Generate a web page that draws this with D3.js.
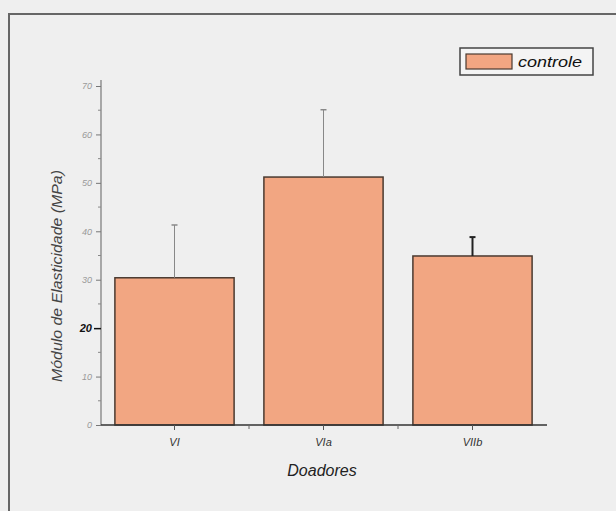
<!DOCTYPE html>
<html><head><meta charset="utf-8">
<script src="https://cdn.jsdelivr.net/npm/d3@7"></script>
<style>
html,body{margin:0;padding:0;background:#efefef;}
svg{display:block;}
text{font-family:"Liberation Sans",Arial,sans-serif;}
</style></head>
<body>
<svg id="c" width="616" height="511"></svg>
<script>
const categories = ["VI", "VIa", "VIIb"];
const values = [30.4, 51.2, 34.9];
const errors = [10.9, 13.9, 3.9];
const yTicks = [0, 10, 20, 30, 40, 50, 60, 70];
const seriesName = "controle";

const svg = d3.select("#c");
const W = 616, H = 511;
svg.append("rect").attr("width", W).attr("height", H).attr("fill", "#efefef");
// outer frame
svg.append("path").attr("d", `M9,${H} V14 H${W}`).attr("fill", "none").attr("stroke", "#666").attr("stroke-width", 2);

const x = d3.scaleBand().domain(categories).range([100, 547]).paddingInner(0.2).paddingOuter(0.1);
const xb = d3.scaleBand().domain(categories).range([100, 547]);
const y = d3.scaleLinear().domain([0, 70]).range([425, 86]);

const barColor = "#f2a682";

// bars
svg.selectAll("rect.bar").data(categories).enter().append("rect")
  .attr("x", d => x(d)).attr("width", x.bandwidth())
  .attr("y", (d, i) => y(values[i])).attr("height", (d, i) => y(0) - y(values[i]))
  .attr("fill", barColor).attr("stroke", "#4a3a30").attr("stroke-width", 1.5);

// error bars
categories.forEach((d, i) => {
  const cx = xb(d) + xb.bandwidth() / 2;
  const dark = i === 2;
  const col = dark ? "#222" : "#888";
  svg.append("line").attr("x1", cx).attr("x2", cx).attr("y1", y(values[i])).attr("y2", y(values[i] + errors[i]))
    .attr("stroke", col).attr("stroke-width", dark ? 2 : 1);
  svg.append("line").attr("x1", cx - 3).attr("x2", cx + 3).attr("y1", y(values[i] + errors[i])).attr("y2", y(values[i] + errors[i]))
    .attr("stroke", col).attr("stroke-width", dark ? 2 : 1.5);
});

// y axis
const yAxis = d3.axisLeft(y).tickValues(yTicks).tickSize(5).tickPadding(4);
const gy = svg.append("g").attr("transform", "translate(101,0)").call(yAxis);
gy.select(".domain").attr("stroke", "#777").attr("stroke-width", 1.2).attr("d", "M0,80V425");
gy.selectAll(".tick line").attr("stroke", "#777");
gy.selectAll(".tick text").attr("fill", "#999").attr("font-size", 9).attr("font-style", "italic")
  .filter(d => d === 20).attr("fill", "#111").attr("font-size", 11).attr("font-weight", "bold");
gy.selectAll(".tick").filter(d => d === 20).select("line").attr("stroke", "#111").attr("stroke-width", 1.5).attr("x2", -7);
// minor y ticks
const minorY = d3.range(5, 70, 10);
svg.append("g").selectAll("line").data(minorY).enter().append("line")
  .attr("x1", 98).attr("x2", 101).attr("y1", d => y(d)).attr("y2", d => y(d)).attr("stroke", "#888");

// x axis
const xAxis = d3.axisBottom(xb).tickSize(5).tickPadding(8);
const gx = svg.append("g").attr("transform", "translate(0,425)").call(xAxis);
gx.select(".domain").attr("stroke", "#333").attr("stroke-width", 1.5).attr("d", "M101,0H547");
gx.selectAll(".tick line").attr("stroke", "#555");
gx.selectAll(".tick text").attr("fill", "#333").attr("font-size", 11).attr("font-style", "italic");
// minor x ticks at band boundaries
svg.append("g").selectAll("line").data(categories.slice(1)).enter().append("line")
  .attr("x1", d => xb(d)).attr("x2", d => xb(d)).attr("y1", 425).attr("y2", 429).attr("stroke", "#666");

// axis titles
svg.append("text").attr("x", 322).attr("y", 476).attr("text-anchor", "middle")
  .attr("font-size", 16).attr("font-style", "italic").attr("fill", "#222").text("Doadores");
svg.append("text").attr("transform", "translate(62,276) rotate(-90)").attr("text-anchor", "middle")
  .attr("font-size", 14).attr("font-style", "italic").attr("fill", "#444")
  .attr("textLength", 212).attr("lengthAdjust", "spacingAndGlyphs").text("Módulo de Elasticidade (MPa)");

// legend
const lg = svg.append("g");
lg.append("rect").attr("x", 460).attr("y", 48).attr("width", 133).attr("height", 27)
  .attr("fill", "#f4f4f4").attr("stroke", "#444").attr("stroke-width", 1.5);
lg.append("rect").attr("x", 466).attr("y", 54).attr("width", 46).attr("height", 15)
  .attr("fill", barColor).attr("stroke", "#4a3a30").attr("stroke-width", 1.2);
lg.append("text").attr("x", 518).attr("y", 67).attr("font-size", 14).attr("font-style", "italic")
  .attr("fill", "#111").attr("textLength", 64).attr("lengthAdjust", "spacingAndGlyphs").text(seriesName);
</script>
</body></html>
